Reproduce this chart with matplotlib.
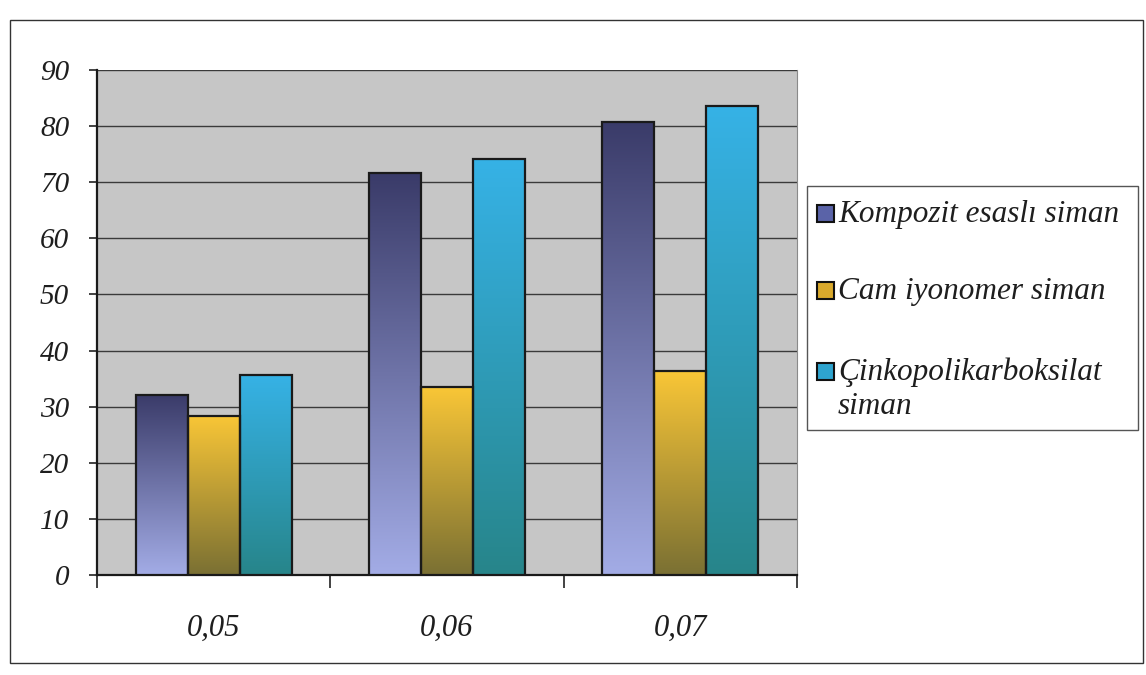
import numpy as np
import matplotlib
matplotlib.use("Agg")
import matplotlib.pyplot as plt
from matplotlib.colors import LinearSegmentedColormap
from matplotlib.patches import Rectangle

# data
categories = ["0,05", "0,06", "0,07"]
series_names = ["Kompozit esaslı siman", "Cam iyonomer siman", "Çinkopolikarboksilat\nsiman"]
kompozit = [32.1, 71.6, 80.8]
cam = [28.4, 33.5, 36.3]
cinko = [35.7, 74.1, 83.5]
y_ticks = [0, 10, 20, 30, 40, 50, 60, 70, 80, 90]

# (top colour, bottom colour) of each gradient fill
grad_colors = [("#3a3b69", "#a3ace6"), ("#f9c637", "#7a7033"), ("#36b2e6", "#27858a")]
legend_colors = ["#5a63a8", "#d9a92c", "#2ea4cf"]

plt.rcParams['font.family'] = ['Liberation Serif', 'DejaVu Serif']
TXT = "#1e1e1e"

W, H = 1146, 675


def fx(px):
    return px / W


def fy(py):
    return 1 - py / H


fig = plt.figure(figsize=(W / 100, H / 100), dpi=100)
ax = fig.add_axes([fx(97), fy(575), fx(700), (575 - 70) / H])
ax.set_facecolor("#c6c6c6")

x = np.arange(len(categories))
width = 0.223
all_series = [kompozit, cam, cinko]

for i, vals in enumerate(all_series):
    bars = ax.bar(x + (i - 1) * width, vals, width, facecolor="none",
                  edgecolor="#1a1a1a", linewidth=1.6, zorder=4)
    cmap = LinearSegmentedColormap.from_list("g%d" % i, [grad_colors[i][1], grad_colors[i][0]])
    for b in bars:
        x0 = b.get_x()
        h = b.get_height()
        grad = np.linspace(0, 1, 256).reshape(-1, 1)
        im = ax.imshow(grad, cmap=cmap, aspect="auto", origin="lower",
                       extent=[x0, x0 + b.get_width(), 0, h], zorder=3)
        im.set_clip_path(b)

ax.set_xlim(-0.5, 2.5)
ax.set_ylim(0, 90)

# grid
ax.set_yticks(y_ticks)
ax.yaxis.grid(True, color="#3a3a3a", linewidth=1.0, zorder=1)
ax.set_axisbelow(True)

# category ticks at boundaries, labels in the middle
ax.set_xticks([-0.5, 0.5, 1.5, 2.5])
ax.set_xticklabels([])
ax.set_xticks(x, minor=True)
ax.set_xticklabels(categories, minor=True, fontsize=22, style="italic", color=TXT)
ax.tick_params(axis="x", which="major", length=9, width=1.2, color="#222222", direction="out")
ax.tick_params(axis="x", which="minor", length=0, pad=28)
ax.tick_params(axis="y", length=6, width=1.2, color="#222222", pad=14)
for lab in ax.get_yticklabels():
    lab.set_fontsize(21)
    lab.set_style("italic")
    lab.set_color(TXT)

ax.spines["top"].set_visible(False)
ax.spines["right"].set_color("#8a8a8a")
ax.spines["right"].set_linewidth(0.8)
ax.spines["left"].set_color("#1a1a1a")
ax.spines["left"].set_linewidth(1.6)
ax.spines["bottom"].set_color("#1a1a1a")
ax.spines["bottom"].set_linewidth(1.6)

# legend box, drawn by hand so the entries sit where they do in the scan
fig.patches.append(Rectangle((fx(807), fy(430)), fx(1138 - 807), (430 - 186) / H,
                             transform=fig.transFigure, facecolor="white",
                             edgecolor="#555555", linewidth=1.0, zorder=5))
baselines = [222, 299, 380]
line_step = 34
for i, name in enumerate(series_names):
    base = baselines[i]
    fig.patches.append(Rectangle((fx(817), fy(base)), fx(17), 17 / H,
                                 transform=fig.transFigure, facecolor=legend_colors[i],
                                 edgecolor="#111111", linewidth=1.5, zorder=6))
    # one text per line, so the square lines up with the first line
    for k, part in enumerate(name.split("\n")):
        fig.text(fx(838), fy(base + k * line_step), part, fontsize=22.5, style="italic",
                 color=TXT, ha="left", va="baseline", zorder=7)

# outer frame of the chart
fig.patches.append(Rectangle((fx(10), fy(663)), fx(1143 - 10), (663 - 20) / H,
                             transform=fig.transFigure, fill=False,
                             edgecolor="#333333", linewidth=1.0))

fig.savefig("out.png", dpi=100)
